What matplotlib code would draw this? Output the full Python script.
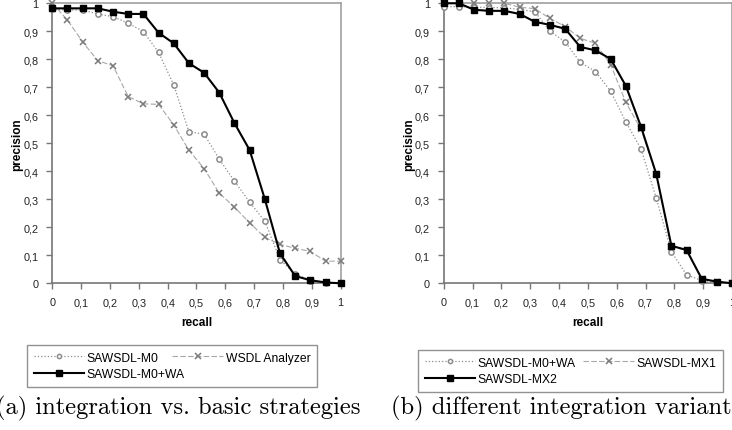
import matplotlib
matplotlib.use("Agg")
import matplotlib.pyplot as plt
import numpy as np
from matplotlib.ticker import FuncFormatter, MultipleLocator

# recall levels: 20 points, 0 .. 1
recall = np.arange(20) / 19.0

# (a) integration vs. basic strategies
m0 = [0.979, 0.976, 0.976, 0.962, 0.952, 0.929, 0.899, 0.825, 0.709, 0.541,
      0.533, 0.443, 0.365, 0.290, 0.222, 0.084, 0.034, 0.010, 0.002, 0.0]
wsdl_analyzer = [1.0, 0.940, 0.862, 0.795, 0.777, 0.667, 0.641, 0.639, 0.566, 0.475,
                 0.410, 0.322, 0.272, 0.216, 0.164, 0.139, 0.125, 0.114, 0.079, 0.079]
m0_wa = [0.982, 0.982, 0.982, 0.982, 0.970, 0.962, 0.962, 0.895, 0.857, 0.786,
         0.752, 0.681, 0.572, 0.476, 0.301, 0.107, 0.026, 0.011, 0.003, 0.0]

# (b) different integration variants
m0_wa_b = [0.988, 0.988, 0.986, 0.985, 0.984, 0.978, 0.970, 0.901, 0.862, 0.789,
           0.756, 0.686, 0.576, 0.480, 0.305, 0.113, 0.030, 0.010, 0.003, 0.0]
mx1 = [1.0, 1.0, 1.0, 1.0, 1.0, 0.986, 0.981, 0.946, 0.917, 0.875,
       0.857, 0.781, 0.646, 0.550, 0.390, 0.130, 0.118, 0.016, 0.005, 0.0]
mx2 = [1.0, 1.0, 0.977, 0.973, 0.973, 0.962, 0.934, 0.923, 0.909, 0.844,
       0.832, 0.801, 0.705, 0.559, 0.391, 0.134, 0.119, 0.016, 0.006, 0.0]

captions = ["(a) integration vs. basic strategies", "(b) different integration variants"]

GRAY = "#8c8c8c"
SANS = "Liberation Sans"


def comma_fmt(v, pos):
    return f"{v:g}".replace(".", ",")


def style_axes(ax):
    ax.set_xlim(0, 1)
    ax.set_ylim(0, 1)
    ax.xaxis.set_major_locator(MultipleLocator(0.1))
    ax.yaxis.set_major_locator(MultipleLocator(0.1))
    ax.xaxis.set_major_formatter(FuncFormatter(comma_fmt))
    ax.yaxis.set_major_formatter(FuncFormatter(comma_fmt))
    ax.tick_params(direction="out", length=4, width=1, color="#777777",
                   labelsize=7.8, labelcolor="#222222", pad=6)
    for lbl in ax.get_xticklabels() + ax.get_yticklabels():
        lbl.set_fontfamily(SANS)
    for s in ["top", "right"]:
        ax.spines[s].set_color("#a0a0a0")
        ax.spines[s].set_linewidth(1.2)
    for s in ["left", "bottom"]:
        ax.spines[s].set_color("#777777")
        ax.spines[s].set_linewidth(1.2)
    ax.set_xlabel("recall", fontsize=8.5, fontweight="bold", family=SANS, labelpad=6)
    ax.set_ylabel("precision", fontsize=8.5, fontweight="bold", family=SANS, labelpad=0)


def draw(ax, circ, cross, sq, names):
    h1, = ax.plot(recall, circ, ls=":", lw=0.9, color=GRAY, marker="o", ms=3.8,
                  mfc="white", mec=GRAY, mew=1.1, clip_on=False, zorder=3)
    h2, = ax.plot(recall, cross, ls=(0, (5, 2)), lw=0.8, color="#a8a8a8", marker="x",
                  ms=5, mec="#7a7a7a", mew=1.1, clip_on=False, zorder=3)
    h3, = ax.plot(recall, sq, ls="-", lw=1.5, color="black", marker="s", ms=5,
                  mfc="black", mec="black", clip_on=False, zorder=4)
    h1.set_label(names[0])
    h2.set_label(names[1])
    h3.set_label(names[2])
    return h1, h2, h3


fig = plt.figure(figsize=(7.32, 4.31), dpi=100)
W, H = 732.0, 431.0

ax1 = fig.add_axes([52.3 / W, 1 - 284.3 / H, 288.4 / W, 280 / H])
ax2 = fig.add_axes([443.7 / W, 1 - 284.3 / H, 288.4 / W, 280 / H])

hs1 = draw(ax1, m0, wsdl_analyzer, m0_wa, ["SAWSDL-M0", "WSDL Analyzer", "SAWSDL-M0+WA"])
hs2 = draw(ax2, m0_wa_b, mx1, mx2, ["SAWSDL-M0+WA", "SAWSDL-MX1", "SAWSDL-MX2"])
style_axes(ax1)
style_axes(ax2)

# legends below each panel (column-major order -> rows look like the original)
for hs, box in [(hs1, (21, 340, 323, 387)), (hs2, (412, 345, 729, 387))]:
    x0, y0, x1, y1 = box
    leg = fig.legend([hs[0], hs[2], hs[1]], [h.get_label() for h in (hs[0], hs[2], hs[1])],
                     ncol=2, loc="upper left", mode="expand",
                     bbox_to_anchor=(x0 / W, 1 - y1 / H, (x1 - x0) / W, (y1 - y0) / H),
                     prop={"family": SANS, "size": 8.7}, handlelength=4.2,
                     handletextpad=0.2, borderpad=0.55, labelspacing=0.35,
                     frameon=True, fancybox=False, markerscale=0.8)
    leg.get_frame().set_edgecolor("#777777")
    leg.get_frame().set_linewidth(1.0)

fig.text(-4 / W, 1 - 414 / H, captions[0], fontsize=17.7, family="cmr10", va="baseline")
fig.text(391 / W, 1 - 414 / H, captions[1], fontsize=17.7, family="cmr10", va="baseline")

fig.savefig("out.png", dpi=100)
